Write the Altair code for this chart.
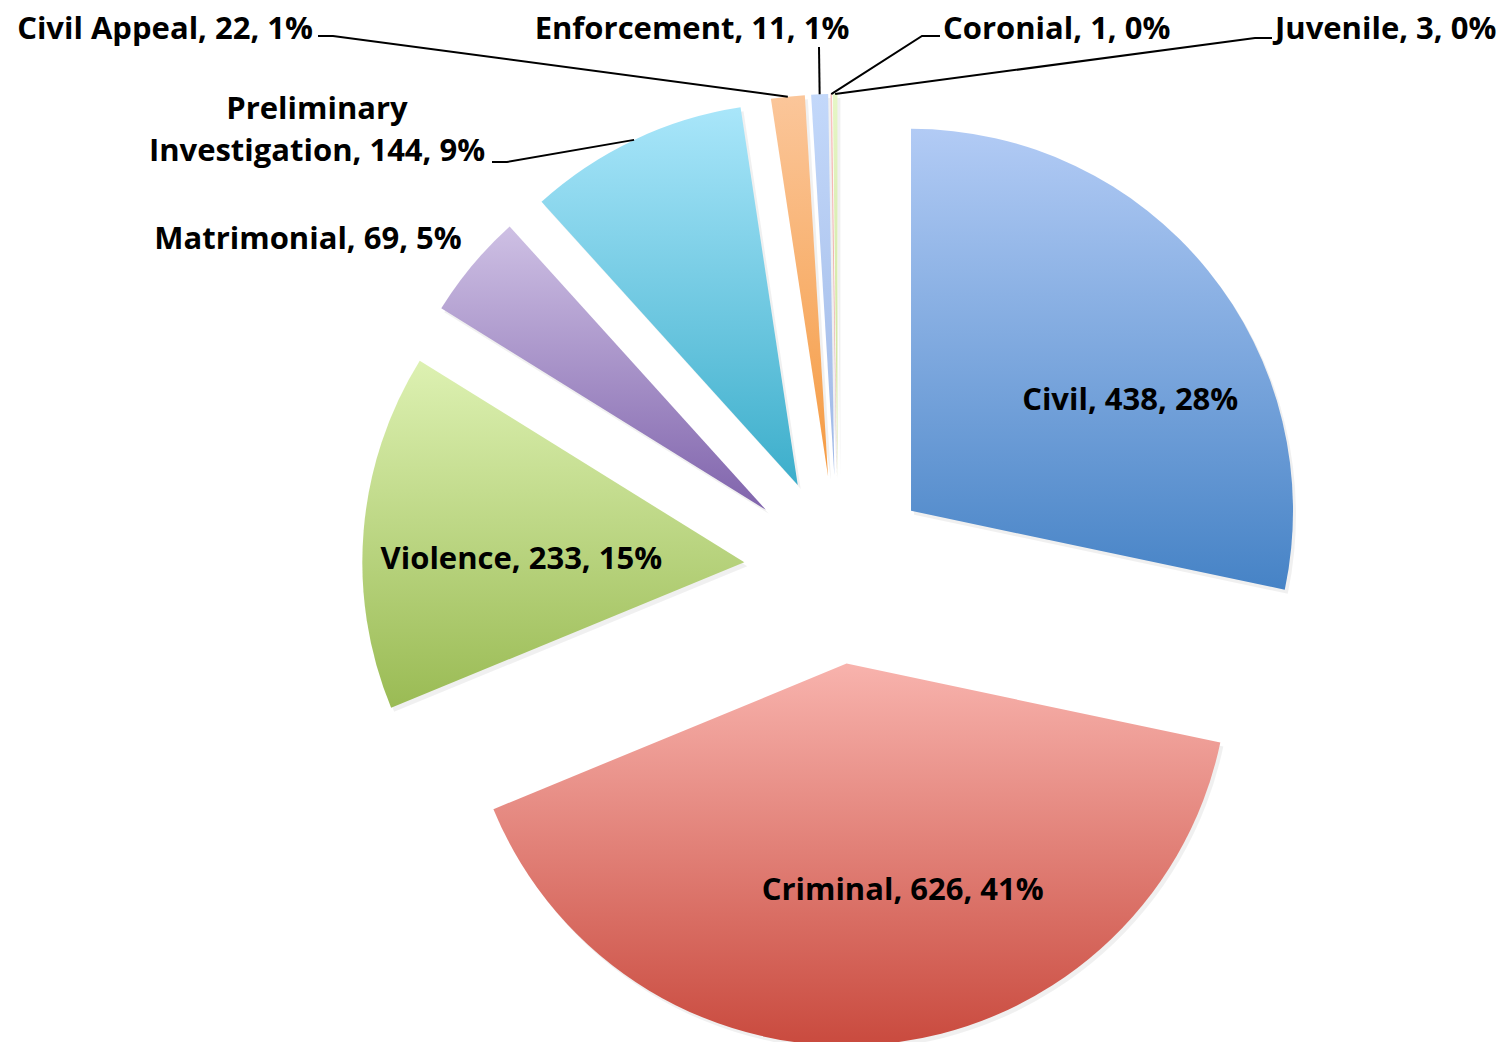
import altair as alt
import numpy as np
import pandas as pd

# ---------------- data ----------------
categories = ["Civil", "Criminal", "Violence", "Matrimonial", "Preliminary Investigation",
              "Civil Appeal", "Enforcement", "Coronial", "Juvenile"]
counts = [438, 626, 233, 69, 144, 22, 11, 1, 3]
percent_labels = [28, 41, 15, 5, 9, 1, 1, 0, 0]

# ---------------- style ----------------
grad_top = ["#B2CBF5", "#F8B3AD", "#DDF1B2", "#CEC0E4", "#A9E6FA",
            "#FBC69A", "#C3D8FA", "#F9C4C0", "#E6F6C6"]
grad_bottom = ["#4683C6", "#C94A3E", "#9ABB54", "#8064AC", "#3CAECB",
               "#F59B42", "#9FB8E6", "#E8958D", "#C8E092"]

M = 8                      # page margin
CX, CY = 838 - M, 570 - M  # pie centre (chart coords)
R = 382                    # pie radius
EXPLODE = 94               # explosion distance
FONT = "Open Sans"
FSIZE = 31

total = sum(counts)
end = np.cumsum(counts)
start = end - np.array(counts)
mid = (start + end) / 2 / total * 2 * np.pi
px = CX + EXPLODE * np.sin(mid)
py = CY - EXPLODE * np.cos(mid)

slices = pd.DataFrame({
    "category": categories, "count": counts,
    "start": start, "end": end, "px": px, "py": py,
})

theta = alt.Theta("start:Q", scale=alt.Scale(domain=[0, total], range=[0, 2 * np.pi]))
theta2 = alt.Theta2("end:Q")
xenc = alt.X("px:Q", scale=None, axis=None)
yenc = alt.Y("py:Q", scale=None, axis=None)

layers = []
# soft shadow
layers.append(
    alt.Chart(slices).mark_arc(radius=R, fill="#000000", opacity=0.06, xOffset=3, yOffset=4)
    .encode(theta=theta, theta2=theta2, x=xenc, y=yenc)
)
for i, cat in enumerate(categories):
    grad = alt.Gradient(
        gradient="linear", x1=0, y1=0, x2=0, y2=1,
        stops=[alt.GradientStop(color=grad_top[i], offset=0),
               alt.GradientStop(color=grad_bottom[i], offset=1)],
    )
    layers.append(
        alt.Chart(slices).transform_filter(alt.datum.category == cat)
        .mark_arc(radius=R, fill=grad)
        .encode(theta=theta, theta2=theta2, x=xenc, y=yenc)
    )

# ---------------- labels ----------------
def label_text(i):
    name = categories[i]
    if name == "Preliminary Investigation":
        name = "Preliminary\nInvestigation"
    return f"{name}, {counts[i]}, {percent_labels[i]}%"

# inside labels: polar placement (radius, angle deg) from slice centre
inside = {"Civil": (246, 63), "Criminal": (232, 166), "Violence": (223, 271)}
# outside labels: anchor (page coords) and alignment
outside = {
    "Civil Appeal": (313, 28, "right"),
    "Enforcement": (692, 28, "center"),
    "Coronial": (943, 28, "left"),
    "Juvenile": (1275, 28, "left"),
    "Preliminary Investigation": (317, 108, "center"),
    "Matrimonial": (308, 238, "center"),
}
DY = 2
rows = []
for i, cat in enumerate(categories):
    if cat in inside:
        r, a = inside[cat]
        a = np.radians(a)
        rows.append({"text": label_text(i), "x": px[i] + r * np.sin(a),
                     "y": py[i] - r * np.cos(a) + DY, "align": "center"})
    else:
        x, y, al = outside[cat]
        rows.append({"text": label_text(i), "x": x - M, "y": y - M + DY, "align": al})
labels = pd.DataFrame(rows)

for al in ["left", "center", "right"]:
    layers.append(
        alt.Chart(labels).transform_filter(alt.datum.align == al)
        .mark_text(font=FONT, fontWeight="bold", fontSize=FSIZE, color="#000000",
                   align=al, baseline="middle", lineBreak="\n", lineHeight=42)
        .encode(x=alt.X("x:Q", scale=None, axis=None),
                y=alt.Y("y:Q", scale=None, axis=None), text="text:N")
    )

# ---------------- leader lines ----------------
leader_pts = {
    "Civil Appeal": [(318, 36), (333, 36)],
    "Enforcement": [(819, 47)],
    "Coronial": [(940, 36), (922, 36)],
    "Juvenile": [(1272, 38), (1255, 38)],
    "Preliminary Investigation": [(492, 162), (507, 162)],
}
lrows = []
for i, cat in enumerate(categories):
    if cat not in leader_pts:
        continue
    k = 0
    for (x, y) in leader_pts[cat]:
        lrows.append({"category": cat, "o": k, "x": x - M, "y": y - M})
        k += 1
    # end on the outer arc midpoint of the slice
    lrows.append({"category": cat, "o": k,
                  "x": px[i] + R * np.sin(mid[i]), "y": py[i] - R * np.cos(mid[i])})
leaders = pd.DataFrame(lrows)
layers.append(
    alt.Chart(leaders).mark_line(color="#000000", strokeWidth=2)
    .encode(x=alt.X("x:Q", scale=None, axis=None), y=alt.Y("y:Q", scale=None, axis=None),
            detail="category:N", order="o:Q")
)

chart = alt.layer(*layers).properties(
    width=1492, height=1034, padding=0,
    autosize=alt.AutoSizeParams(type="none"),
).configure_view(stroke=None)

chart.save("out.html", embed_options={"renderer": "svg", "actions": False})
